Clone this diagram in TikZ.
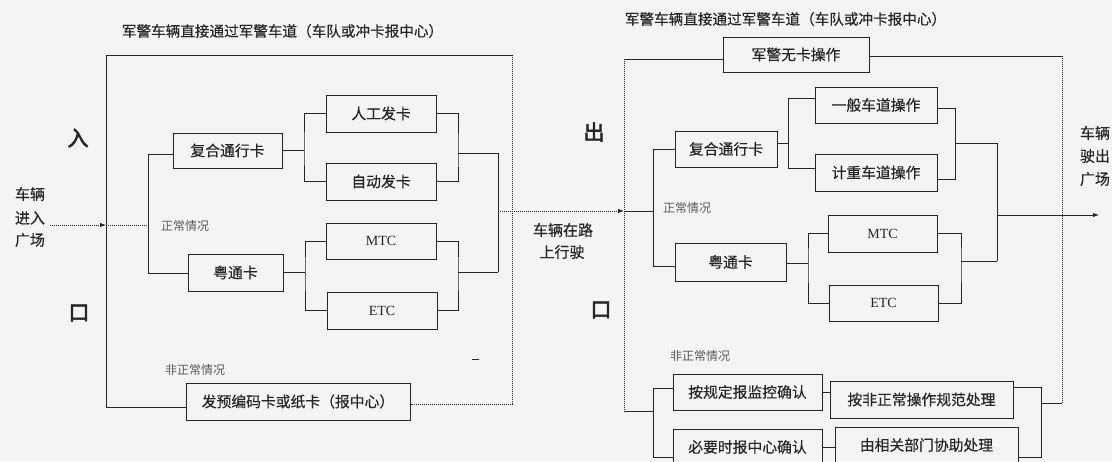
\documentclass[tikz,border=0pt]{standalone}
\usepackage{fontspec}
\setmainfont{Liberation Serif}
\newfontfamily\cjk[FakeBold=0.4]{Noto Sans CJK SC}
\newfontfamily\cjklite{Noto Sans CJK SC}
\newfontfamily\cjkbig[FakeBold=2.5]{Noto Sans CJK SC}
\usetikzlibrary{arrows.meta}
\definecolor{bg}{HTML}{F6F3F5}
\definecolor{ink}{HTML}{262626}
\definecolor{faint}{HTML}{5A5A5A}
\begin{document}
\begin{tikzpicture}[x=1pt,y=-1pt,
  box/.style={draw=ink, line width=1pt, inner sep=0pt, font=\cjk\fontsize{14.8}{16}\selectfont, text=ink},
  ln/.style={draw=ink, line width=0.9pt},
  dl/.style={draw=ink, line width=0.9pt, dash pattern=on 1pt off 1pt},
  lab/.style={font=\cjk\fontsize{15}{16}\selectfont, text=ink, inner sep=0pt},
  ttl/.style={font=\cjk\fontsize{14.6}{16}\selectfont, text=ink, inner sep=0pt},
  small/.style={font=\cjklite\fontsize{12}{13}\selectfont, text=faint, inner sep=0pt},
  big/.style={font=\cjkbig\fontsize{21}{22}\selectfont, text=ink, inner sep=0pt},
  roman/.style={box, font=\fontsize{14}{15}\selectfont},
  tip/.style={-{Latex[length=6pt,width=4.5pt]}}
]
\useasboundingbox (0,0) rectangle (1112,461);
\fill[bg] (0,0) rectangle (1112,461);
\clip (0,0) rectangle (1112,461);

% ---------- titles ----------
\node[ttl] (t1) at (282.5,31) {军警车辆直接通过军警车道（车队或冲卡报中心）};
\node[ttl] (t2) at (785.5,19) {军警车辆直接通过军警车道（车队或冲卡报中心）};

% ---------- left side labels ----------
\node[lab] (in1) at (30,194) {车辆};
\node[lab] (in2) at (30,218) {进入};
\node[lab] (in3) at (30,240) {广场};
\node[big] (ru) at (78,138) {入};
\node[big] (kou1) at (79,313) {口};
\node[small] (n1) at (185,226) {正常情况};
\node[small] (a1) at (195,370) {非正常情况};

% ---------- left boxes ----------
\node[box, minimum width=109pt, minimum height=35pt] (fh1) at (227.5,150.5) {复合通行卡};
\node[box, minimum width=110pt, minimum height=37pt] (rg) at (381,113.5) {人工发卡};
\node[box, minimum width=110pt, minimum height=37pt] (zd) at (381,181.5) {自动发卡};
\node[box, minimum width=95pt, minimum height=37pt] (yt1) at (235.5,272.5) {粤通卡};
\node[roman, minimum width=110pt, minimum height=36pt] (mtc1) at (381,241) {MTC};
\node[roman, minimum width=110pt, minimum height=37pt] (etc1) at (382,310.5) {ETC};
\node[box, minimum width=224pt, minimum height=37pt] (fy) at (298,401.5) {发预编码卡或纸卡（报中心）};

% ---------- left junctions ----------
\coordinate (a0) at (50,225);
\coordinate (O1) at (106,55);
\coordinate (O2) at (512,55);
\coordinate (O3) at (512,404);
\coordinate (O4) at (106,407);
\coordinate (I1) at (148,154);
\coordinate (I2) at (148,273);
\coordinate (B1) at (304,150);
\coordinate (M1) at (458,153);
\coordinate (J1) at (498,153);
\coordinate (B2) at (305,272);
\coordinate (M2) at (458,272);
\coordinate (J2) at (498,272);
\coordinate (J3) at (498,211);
\coordinate (D1) at (472,359);
\coordinate (D2) at (479,359);

% ---------- left connectors ----------
\draw[ln] (O4) -- (O1) -- (O2);
\draw[dl] (O2) -- (O3) -- (fy.east |- O3);
\draw[ln] (O4) -- (fy.west |- O4);
\draw[dl, tip] (a0) -- (O1 |- a0);
\draw[dl] (O1 |- a0) -- (I1 |- a0);
\draw[ln] (fh1.west |- I1) -- (I1) -- (I2) -- (yt1.west |- I2);
\draw[ln] (fh1.east |- B1) -- (B1);
\draw[ln] (rg.west) -| (B1) |- (zd.west);
\draw[ln] (rg.east) -| (M1) |- (zd.east);
\draw[ln] (M1) -- (J1) -- (J2);
\draw[ln] (yt1.east |- B2) -- (B2);
\draw[ln] (mtc1.west) -| (B2) |- (etc1.west);
\draw[ln] (mtc1.east) -| (M2) |- (etc1.east);
\draw[ln] (M2) -- (J2);
\draw[ln, line width=0.6pt] (D1) -- (D2);

% ---------- middle ----------
\coordinate (R0) at (624,211);
\draw[dl, tip] (J3) -- (R0);
\node[lab] (road1) at (563,230) {车辆在路};
\node[lab] (road2) at (562,252) {上行驶};

% ---------- right labels ----------
\node[big] (chu) at (594,132) {出};
\node[big] (kou2) at (601,310) {口};
\node[small] (n2) at (687,208) {正常情况};
\node[small] (a2) at (700,356) {非正常情况};
\node[lab] (ex1) at (1095,133) {车辆};
\node[lab] (ex2) at (1095,156) {驶出};
\node[lab] (ex3) at (1095,179) {广场};

% ---------- right boxes ----------
\node[box, minimum width=146pt, minimum height=35pt] (jj) at (796,54.5) {军警无卡操作};
\node[box, minimum width=102pt, minimum height=36pt] (fh2) at (726,149) {复合通行卡};
\node[box, minimum width=122pt, minimum height=36pt] (yb) at (876,105) {一般车道操作};
\node[box, minimum width=122pt, minimum height=37pt] (jz) at (876,172.5) {计重车道操作};
\node[box, minimum width=111pt, minimum height=38pt] (yt2) at (730.5,262) {粤通卡};
\node[roman, minimum width=109pt, minimum height=37pt] (mtc2) at (882.5,233.5) {MTC};
\node[roman, minimum width=109pt, minimum height=36pt] (etc2) at (883.5,303) {ETC};
\node[box, minimum width=149pt, minimum height=36pt] (ag) at (747.5,392) {按规定报监控确认};
\node[box, minimum width=149pt, minimum height=36pt] (by) at (747.5,447) {必要时报中心确认};
\node[box, minimum width=183pt, minimum height=37pt] (af) at (921.5,399.5) {按非正常操作规范处理};
\node[box, minimum width=183pt, minimum height=36pt] (yx) at (926.5,445) {由相关部门协助处理};

% ---------- right junctions ----------
\coordinate (P1) at (624,59);
\coordinate (P2) at (624,411);
\coordinate (Q1) at (1062,56);
\coordinate (Q2) at (1062,403);
\coordinate (K1) at (653,149);
\coordinate (K2) at (653,266);
\coordinate (B3) at (788,143);
\coordinate (B3t) at (788,98);
\coordinate (B3b) at (788,168);
\coordinate (M3t) at (955,108);
\coordinate (M3b) at (955,179);
\coordinate (M3) at (955,143);
\coordinate (J4) at (997,143);
\coordinate (J5) at (997,261);
\coordinate (J6) at (997,215);
\coordinate (ex) at (1099,215);
\coordinate (B4) at (808,263);
\coordinate (M4) at (961,261);
\coordinate (L1) at (653,388);
\coordinate (L2) at (653,457);
\coordinate (R1) at (1041,387);
\coordinate (R2) at (1041,457);

% ---------- right connectors ----------
\draw[ln] (jj.west |- P1) -- (P1);
\draw[dl] (P1) -- (P2);
\draw[ln] (jj.east |- Q1) -- (Q1);
\draw[dl] (Q1) -- (Q2);
\draw[ln] (R0) -- (K1 |- R0);
\draw[ln] (fh2.west) -- (K1) -- (K2) -- (yt2.west |- K2);
\draw[ln] (fh2.east |- B3) -- (B3);
\draw[ln] (yb.west |- B3t) -- (B3t) -- (B3b) -- (jz.west |- B3b);
\draw[ln] (yb.east |- M3t) -- (M3t) -- (M3b) -- (jz.east |- M3b);
\draw[ln] (M3) -- (J4) -- (J5);
\draw[ln, tip] (J6) -- (ex);
\draw[ln] (yt2.east |- B4) -- (B4);
\draw[ln] (mtc2.west) -| (B4) |- (etc2.west);
\draw[ln] (mtc2.east) -| (M4) |- (etc2.east);
\draw[ln] (M4) -- (J5);
\draw[ln] (P2) -- (L1 |- P2);
\draw[ln] (ag.west |- L1) -- (L1) -- (L2) -- (by.west |- L2);
\draw[ln] (ag.east) -- (af.west |- ag.east);
\draw[ln] (by.east) -- (yx.west |- by.east);
\draw[ln] (af.east |- R1) -- (R1) -- (R2) -- (yx.east |- R2);
\draw[ln] (R1 |- Q2) -- (Q2);
\end{tikzpicture}
\end{document}
